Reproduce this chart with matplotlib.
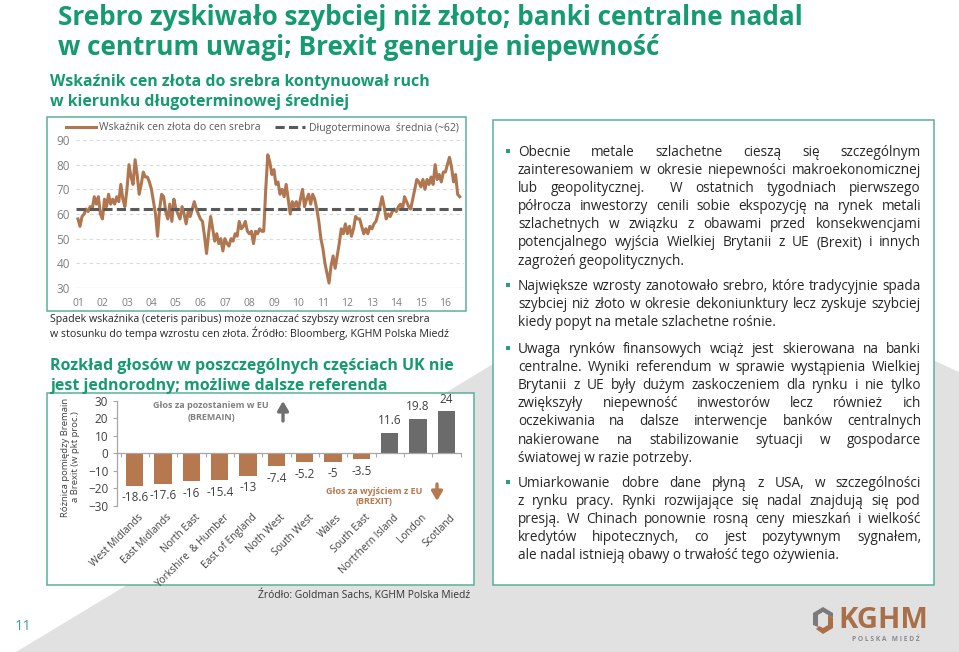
import matplotlib
matplotlib.use("Agg")
import matplotlib.pyplot as plt
import numpy as np
import pandas as pd
from matplotlib.patches import Rectangle, Polygon
from matplotlib.font_manager import FontProperties
from matplotlib.transforms import blended_transform_factory

# ---------------- data ----------------
ratio_first_month = "2001-01-01"
ratio_2001 = [58, 55, 59, 60, 62, 61, 63, 62, 67, 64, 67, 60]
ratio_2002 = [58, 66, 63, 68, 64, 66, 64, 67, 65, 72, 66, 63]
ratio_2003 = [70, 80, 75, 72, 82, 76, 68, 72, 77, 75, 75, 73]
ratio_2004 = [70, 65, 60, 51, 62, 68, 67, 61, 58, 64, 57, 66]
ratio_2005 = [62, 60, 58, 63, 60, 56, 61, 59, 62, 65, 62, 60]
ratio_2006 = [58, 57, 51, 44, 52, 59, 54, 49, 52, 48, 50, 45]
ratio_2007 = [50, 48, 47, 50, 49, 52, 51, 57, 54, 55, 57, 53]
ratio_2008 = [52, 53, 48, 53, 52, 54, 53, 53, 70, 84, 81, 76]
ratio_2009 = [78, 72, 73, 68, 70, 67, 72, 66, 60, 65, 63, 65]
ratio_2010 = [62, 66, 70, 63, 66, 68, 64, 68, 66, 62, 57, 50]
ratio_2011 = [46, 40, 36, 32, 39, 43, 38, 43, 48, 54, 52, 56]
ratio_2012 = [52, 55, 51, 54, 59, 58, 58, 55, 52, 54, 52, 55]
ratio_2013 = [54, 56, 57, 60, 63, 67, 63, 58, 60, 59, 61, 62]
ratio_2014 = [61, 63, 64, 62, 67, 65, 63, 62, 66, 70, 74, 73]
ratio_2015 = [71, 74, 70, 74, 72, 75, 72, 80, 74, 76, 73, 77]
ratio_2016 = [77, 80, 83, 79, 73, 76, 68, 67]
long_term_average = 62
ratio_label = "Wskaźnik cen złota do cen srebra"
average_label = "Długoterminowa  średnia (~62)"
year_ticks = list(range(2001, 2017))
year_tick_labels = ["01", "02", "03", "04", "05", "06", "07", "08",
                    "09", "10", "11", "12", "13", "14", "15", "16"]
ratio_yticks = [30, 40, 50, 60, 70, 80, 90]

regions = ["West Midlands", "East Midlands", "North East", "Yorkshire  & Humber",
           "East of England", "Noth West", "South West", "Wales", "South East",
           "Nortrhern Island", "London", "Scotland"]
bremain_minus_brexit = [-18.6, -17.6, -16, -15.4, -13, -7.4, -5.2, -5, -3.5, 11.6, 19.8, 24]
bar_yticks = [-30, -20, -10, 0, 10, 20, 30]

paragraphs = [
    ["Obecnie metale szlachetne cieszą się szczególnym",
     "zainteresowaniem w okresie niepewności makroekonomicznej",
     "lub geopolitycznej.  W ostatnich tygodniach pierwszego",
     "półrocza inwestorzy cenili sobie ekspozycję na rynek metali",
     "szlachetnych w związku z obawami przed konsekwencjami",
     "potencjalnego wyjścia Wielkiej Brytanii z UE (Brexit) i innych",
     "zagrożeń geopolitycznych."],
    ["Największe wzrosty zanotowało srebro, które tradycyjnie spada",
     "szybciej niż złoto w okresie dekoniunktury lecz zyskuje szybciej",
     "kiedy popyt na metale szlachetne rośnie."],
    ["Uwaga rynków finansowych wciąż jest skierowana na banki",
     "centralne. Wyniki referendum w sprawie wystąpienia Wielkiej",
     "Brytanii z UE były dużym zaskoczeniem dla rynku i nie tylko",
     "zwiększyły niepewność inwestorów lecz również ich",
     "oczekiwania na dalsze interwencje banków centralnych",
     "nakierowane na stabilizowanie sytuacji w gospodarce",
     "światowej w razie potrzeby."],
    ["Umiarkowanie dobre dane płyną z USA, w szczególności",
     "z rynku pracy. Rynki rozwijające się nadal znajdują się pod",
     "presją. W Chinach ponownie rosną ceny mieszkań i wielkość",
     "kredytów hipotecznych, co jest pozytywnym sygnałem,",
     "ale nadal istnieją obawy o trwałość tego ożywienia."],
]

# ---------------- setup ----------------
W, H = 959, 652
fig = plt.figure(figsize=(W / 100, H / 100), dpi=100)
fig.patch.set_facecolor("white")
renderer = fig.canvas.get_renderer()


def fx(x):
    return x / W


def fy(y):
    return 1 - y / H


def rect(l, t, r, b):
    return [fx(l), fy(b), (r - l) / W, (b - t) / H]


GREEN = "#159b6d"
TEAL = "#5aaf9f"
BROWN = "#b5784f"
LINE_BROWN = "#b07650"
GREY_BAR = "#6b6b6b"
TXT = "#262626"
BODY = ["Open Sans", "DejaVu Sans"]
COND = ["Liberation Sans Narrow", "Open Sans", "DejaVu Sans"]


def text_px(x, y, s, fit_width=None, **kw):
    t = fig.text(fx(x), fy(y), s, **kw)
    if fit_width:
        bb = t.get_window_extent(renderer)
        t.set_fontsize(t.get_fontsize() * fit_width / bb.width)
    return t


# background
fig.add_artist(Polygon([(fx(16), fy(652)), (fx(687), fy(247)), (fx(959), fy(372)), (fx(959), fy(652))],
                       closed=True, transform=fig.transFigure, facecolor="#e1e1e1",
                       edgecolor="none", zorder=-3))
for (l, t, r, b) in [(47, 117, 466, 311), (47, 393, 474, 585), (493, 120, 934, 585)]:
    fig.add_artist(Rectangle((fx(l), fy(b)), (r - l) / W, (b - t) / H, transform=fig.transFigure,
                             facecolor="white", edgecolor=TEAL, lw=1.1, zorder=-2))

# titles
t1 = text_px(58, 25, "Srebro zyskiwało szybciej niż złoto; banki centralne nadal", fit_width=745,
             family=COND, weight="bold", fontsize=20, color=GREEN, va="baseline")
text_px(58, 55, "w centrum uwagi; Brexit generuje niepewność", family=COND, weight="bold",
        fontsize=t1.get_fontsize(), color=GREEN, va="baseline")

s1 = text_px(50, 86, "Wskaźnik cen złota do srebra kontynuował ruch", fit_width=382,
             family=COND, weight="bold", fontsize=14, color=GREEN, va="baseline")
text_px(50, 106, "w kierunku długoterminowej średniej", family=COND, weight="bold",
        fontsize=s1.get_fontsize(), color=GREEN, va="baseline")

c1 = text_px(50, 322, "w stosunku do tempa wzrostu cen złota. Źródło: Bloomberg, KGHM Polska Miedź",
             fit_width=398, family=BODY, fontsize=7.5, color=TXT, va="baseline")
c1.set_y(fy(337))
text_px(50, 322, "Spadek wskaźnika (ceteris paribus) może oznaczać szybszy wzrost cen srebra",
        family=BODY, fontsize=c1.get_fontsize(), color=TXT, va="baseline")

s2 = text_px(50, 370, "Rozkład głosów w poszczególnych częściach UK nie", fit_width=403,
             family=BODY, weight="bold", fontsize=12, color=GREEN, va="baseline")
text_px(50, 390, "jest jednorodny; możliwe dalsze referenda", family=BODY, weight="bold",
        fontsize=s2.get_fontsize(), color=GREEN, va="baseline")

src = text_px(258, 598, "Źródło: Goldman Sachs, KGHM Polska Miedź", fit_width=212,
              family=COND, fontsize=8, color="#333333", va="baseline")

text_px(15, 630, "11", family=COND, fontsize=10.5, color="#3f9fa0", va="baseline")

# ---------------- line chart ----------------
ratio_values = (ratio_2001 + ratio_2002 + ratio_2003 + ratio_2004 + ratio_2005 + ratio_2006 +
                ratio_2007 + ratio_2008 + ratio_2009 + ratio_2010 + ratio_2011 + ratio_2012 +
                ratio_2013 + ratio_2014 + ratio_2015 + ratio_2016)
dates = pd.date_range(ratio_first_month, periods=len(ratio_values), freq="MS")
dec_year = dates.year + (dates.month - 1) / 12.0

axl = fig.add_axes(rect(75.5, 140, 464, 288))
axl.set_facecolor("none")
axl.plot(dec_year, ratio_values, color=LINE_BROWN, lw=2.2, solid_joinstyle="round",
         label=ratio_label, zorder=3)
axl.axhline(long_term_average, color="#595959", lw=2.2, ls=(0, (3, 1.4)), label=average_label, zorder=4)
axl.set_xlim(2000.9, 2016.76)
axl.set_ylim(30, 90)
axl.set_yticks(ratio_yticks)
axl.set_xticks(year_ticks)
axl.set_xticklabels(year_tick_labels)
for yv in ratio_yticks[1:]:
    axl.axhline(yv, color="#d9d9d9", lw=0.8, ls=(0, (3, 3)), zorder=1)
axl.axhline(ratio_yticks[0], color="#d0d0d0", lw=0.9, zorder=1)
for sp in axl.spines.values():
    sp.set_visible(False)
axl.tick_params(length=0, labelcolor="#7f7f7f")
axl.tick_params(axis="x", pad=7, labelsize=7.5)
axl.tick_params(axis="y", pad=4, labelsize=8.5)
for lab in axl.get_xticklabels() + axl.get_yticklabels():
    lab.set_family(BODY)
leg = axl.legend(loc="center", bbox_to_anchor=(fx(262), fy(128)), bbox_transform=fig.transFigure,
                 ncol=2, frameon=False, fontsize=7.5, handlelength=2.9, handletextpad=0.35,
                 columnspacing=1.3, borderpad=0, borderaxespad=0)
for t in leg.get_texts():
    t.set_color("#595959")
    t.set_family(BODY)

# ---------------- bar chart ----------------
axb = fig.add_axes(rect(116.7, 400.7, 460.5, 505.7))
axb.set_facecolor("none")
xpos = np.arange(len(regions))
bar_colors = [BROWN if v < 0 else GREY_BAR for v in bremain_minus_brexit]
axb.bar(xpos, bremain_minus_brexit, width=0.61, color=bar_colors, zorder=2)
axb.set_xlim(-0.635, len(regions) - 0.5)
axb.set_ylim(-30, 30)
axb.set_yticks(bar_yticks)
for sp in ["top", "right"]:
    axb.spines[sp].set_visible(False)
axb.spines["bottom"].set_position(("data", 0))
for sp in ["bottom", "left"]:
    axb.spines[sp].set_color("#a6a6a6")
    axb.spines[sp].set_linewidth(0.9)
axb.set_xticks(np.arange(-0.5, len(regions), 1.0))
axb.set_xticklabels([])
axb.tick_params(axis="x", length=3, color="#a6a6a6", direction="out")
axb.tick_params(axis="y", length=3, color="#a6a6a6", labelsize=8.5, labelcolor="#404040", pad=3)
for lab in axb.get_yticklabels():
    lab.set_family(BODY)
for i, v in enumerate(bremain_minus_brexit):
    off = 8.6 if v > 0 else -8.6
    axb.annotate(f"{v:g}", (i, v), xytext=(0, off), textcoords="offset points",
                 ha="center", va="center", fontsize=8.5, color="#404040", family=BODY)
btrans = blended_transform_factory(axb.transData, axb.transAxes)
for i, name in enumerate(regions):
    axb.text(i + 0.12, -0.06, name, transform=btrans, rotation=45, ha="right", va="top",
             rotation_mode="anchor", fontsize=7.3, color="#404040", family=BODY)
fig.text(fx(65), fy(457), "Różnica pomiędzy Bremain", rotation=90, ha="center", va="center",
         fontsize=6.8, color="#404040", family=BODY)
fig.text(fx(75), fy(457), "a Brexit (w pkt proc.)", rotation=90, ha="center", va="center",
         fontsize=6.8, color="#404040", family=BODY)

fig.text(fx(211), fy(406), "Głos za pozostaniem w EU", ha="center", va="center", fontsize=6.5,
         weight="bold", color="#808080", family=BODY)
fig.text(fx(211), fy(417), "(BREMAIN)", ha="center", va="center", fontsize=6.5,
         weight="bold", color="#808080", family=BODY)
fig.text(fx(374), fy(491), "Głos za wyjściem z EU", ha="center", va="center", fontsize=6.5,
         weight="bold", color=BROWN, family=BODY)
fig.text(fx(374), fy(502), "(BREXIT)", ha="center", va="center", fontsize=6.5,
         weight="bold", color=BROWN, family=BODY)
axb.annotate("", xy=(fx(283), fy(401)), xytext=(fx(283), fy(421)), xycoords="figure fraction",
             textcoords="figure fraction",
             arrowprops=dict(arrowstyle="-|>,head_width=0.32,head_length=0.55", lw=2.4,
                             color="#707070", shrinkA=0, shrinkB=0))
axb.annotate("", xy=(fx(437), fy(501)), xytext=(fx(437), fy(484)), xycoords="figure fraction",
             textcoords="figure fraction",
             arrowprops=dict(arrowstyle="-|>,head_width=0.32,head_length=0.55", lw=2.4,
                             color=BROWN, shrinkA=0, shrinkB=0))

# ---------------- justified text box ----------------
X0, X1 = 518, 921
probe = FontProperties(family=BODY, size=10)
w_probe = renderer.get_text_width_height_descent(paragraphs[3][-1], probe, ismath=False)[0]
body_fs = 10 * 322 / w_probe
prop = FontProperties(family=BODY, size=body_fs)


def tw(s):
    return renderer.get_text_width_height_descent(s, prop, ismath=False)[0]


para_first_y = [151, 285, 348, 482]
LINE_H = 18.1
for p_i, lines in enumerate(paragraphs):
    y0 = para_first_y[p_i]
    fig.add_artist(Rectangle((fx(506), fy(y0 + 2)), 4 / W, 4 / H, transform=fig.transFigure,
                             facecolor="#2a9d7a", edgecolor="none"))
    for l_i, line in enumerate(lines):
        yb = y0 + l_i * LINE_H + 5
        last = l_i == len(lines) - 1
        if last:
            fig.text(fx(X0), fy(yb), line, fontproperties=prop, color=TXT, va="baseline")
            continue
        tokens = line.split(" ")
        words, gaps = [], []
        cnt = 0
        for tok in tokens:
            if tok == "":
                cnt += 1
                continue
            if words:
                gaps.append(cnt)
            words.append(tok)
            cnt = 1
        widths = [tw(w) for w in words]
        extra = (X1 - X0 - sum(widths)) / max(sum(gaps), 1)
        x = X0
        for k, w in enumerate(words):
            fig.text(fx(x), fy(yb), w, fontproperties=prop, color=TXT, va="baseline")
            if k < len(gaps):
                x += widths[k] + extra * gaps[k]

# ---------------- logo ----------------
fig.add_artist(Polygon([(fx(813), fy(625)), (fx(813), fy(613)), (fx(823), fy(607)), (fx(833), fy(613)),
                        (fx(833), fy(618)), (fx(823), fy(612)), (fx(818), fy(615)), (fx(818), fy(627))],
                       closed=True, transform=fig.transFigure, facecolor="#7a7a7a", edgecolor="none"))
fig.add_artist(Polygon([(fx(816), fy(629)), (fx(823), fy(634)), (fx(833), fy(628)), (fx(833), fy(618)),
                        (fx(828), fy(615)), (fx(828), fy(625)), (fx(823), fy(628)), (fx(819), fy(626))],
                       closed=True, transform=fig.transFigure, facecolor="#a96f49", edgecolor="none"))
text_px(838, 628, "KGHM", fit_width=90, family=COND, weight="bold", fontsize=20,
        color="#a96f49", va="baseline")
text_px(852, 641, "P O L S K A   M I E D Ź", fit_width=66, family=BODY, weight="bold",
        fontsize=4, color="#8a8a8a", va="baseline")

fig.savefig("out.png", dpi=100)
